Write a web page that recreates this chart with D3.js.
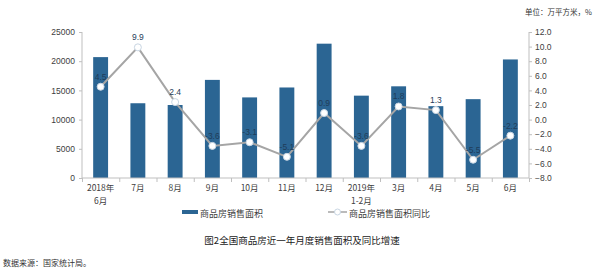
<!DOCTYPE html>
<html>
<head>
<meta charset="utf-8">
<script src="https://cdn.jsdelivr.net/npm/d3@7"></script>
<style>
  body { margin: 0; background: #fff; }
  svg { font-family: "Noto Sans CJK SC", "Noto Sans", sans-serif; }
</style>
</head>
<body>
<div id="chart"></div>
<script>
const months = ["2018年|6月", "7月", "8月", "9月", "10月", "11月", "12月", "2019年|1-2月", "3月", "4月", "5月", "6月"];
const salesArea = [20700, 12800, 12500, 16800, 13800, 15500, 23000, 14100, 15700, 12300, 13500, 20300];
const yoy = [4.5, 9.9, 2.4, -3.6, -3.1, -5.1, 0.9, -3.6, 1.8, 1.3, -5.5, -2.2];
const leftTicks = [0, 5000, 10000, 15000, 20000, 25000];
const rightTicks = [-8, -6, -4, -2, 0, 2, 4, 6, 8, 10, 12];

const w = 600, h = 269;
const plotL = 82, plotR = 529, plotT = 32, plotB = 178;
const barColor = "#2b6593", lineColor = "#a5a5a5";

const svg = d3.select("#chart").append("svg")
  .attr("width", w).attr("height", h);

const x = d3.scaleBand().domain(months).range([plotL, plotR]).paddingInner(0.6).paddingOuter(0.3);
const yL = d3.scaleLinear().domain([0, 25000]).range([plotB, plotT]);
const yR = d3.scaleLinear().domain([-8, 12]).range([plotB, plotT]);

// bars
svg.selectAll("rect.bar").data(salesArea).join("rect")
  .attr("class", "bar")
  .attr("x", (d, i) => x(months[i]))
  .attr("width", x.bandwidth())
  .attr("y", d => yL(d))
  .attr("height", d => plotB - yL(d))
  .attr("fill", barColor);

// axes
const axL = d3.axisLeft(yL).tickValues(leftTicks).tickSize(4).tickFormat(d3.format("d"));
const gL = svg.append("g").attr("transform", `translate(${plotL},0)`).call(axL);
const axR = d3.axisRight(yR).tickValues(rightTicks).tickSize(4).tickFormat(d3.format(".1f"));
const gR = svg.append("g").attr("transform", `translate(${plotR},0)`).call(axR);
const axB = d3.axisBottom(d3.scalePoint().domain(d3.range(13)).range([plotL, plotR])).tickSize(4).tickFormat("");
const gB = svg.append("g").attr("transform", `translate(0,${plotB})`).call(axB);
[gL, gR, gB].forEach(g => {
  g.selectAll("path, line").attr("stroke", "#bfbfbf");
  g.selectAll("text").attr("fill", "#404040").style("font-size", "8.5px").style("font-family", "Liberation Sans, Arial, sans-serif");
});
gL.select("path").attr("d", `M0,${plotT}V${plotB}`);
gR.select("path").attr("d", `M0,${plotT}V${plotB}`);
gB.select("path").attr("d", `M${plotL},0H${plotR}`);
gL.selectAll(".tick line").attr("x2", -3);
gR.selectAll(".tick line").attr("x2", 3);
gR.selectAll("text").attr("x", 6);

// category labels
const cx = m => x(m) + x.bandwidth() / 2;
months.forEach(m => {
  const parts = m.split("|");
  const t = svg.append("text").attr("x", cx(m)).attr("y", plotB + 13)
    .attr("text-anchor", "middle").attr("fill", "#404040").style("font-size", "8.5px");
  parts.forEach((p, k) => t.append("tspan").attr("x", cx(m)).attr("dy", k ? 12.5 : 0).text(p));
});

// line
const line = d3.line().x((d, i) => cx(months[i])).y(d => yR(d));
svg.append("path").datum(yoy).attr("d", line)
  .attr("fill", "none").attr("stroke", lineColor).attr("stroke-width", 2);
svg.selectAll("circle.pt").data(yoy).join("circle")
  .attr("class", "pt")
  .attr("cx", (d, i) => cx(months[i])).attr("cy", d => yR(d)).attr("r", 3.5)
  .attr("fill", "#fff").attr("stroke", "#c9d6e3").attr("stroke-width", 1);
svg.selectAll("text.lbl").data(yoy).join("text")
  .attr("class", "lbl")
  .attr("x", (d, i) => cx(months[i])).attr("y", d => yR(d) - 7)
  .attr("text-anchor", "middle")
  .attr("fill", "#1f3d5a")
  .style("font-size", "8.5px").style("font-family", "Liberation Sans, Arial, sans-serif")
  .text(d => d.toFixed(1));

// legend
svg.append("rect").attr("x", 182).attr("y", 210).attr("width", 16).attr("height", 4).attr("fill", barColor);
svg.append("text").attr("x", 200).attr("y", 216.5).attr("fill", "#404040").style("font-size", "9px").text("商品房销售面积");
svg.append("line").attr("x1", 328).attr("x2", 347).attr("y1", 212).attr("y2", 212).attr("stroke", lineColor).attr("stroke-width", 1.5);
svg.append("circle").attr("cx", 337.5).attr("cy", 212).attr("r", 3).attr("fill", "#fff").attr("stroke", "#c9d6e3");
svg.append("text").attr("x", 349).attr("y", 216.5).attr("fill", "#404040").style("font-size", "9px").text("商品房销售面积同比");

// texts
svg.append("text").attr("x", 302).attr("y", 244).attr("text-anchor", "middle").attr("fill", "#222")
  .style("font-size", "9.5px").text("图2全国商品房近一年月度销售面积及同比增速");
svg.append("text").attr("x", 3).attr("y", 266).attr("fill", "#333")
  .style("font-size", "8px").text("数据来源：国家统计局。");
svg.append("text").attr("x", 592).attr("y", 15).attr("text-anchor", "end").attr("fill", "#333")
  .style("font-size", "7.5px").text("单位：万平方米，%");
</script>
</body>
</html>
